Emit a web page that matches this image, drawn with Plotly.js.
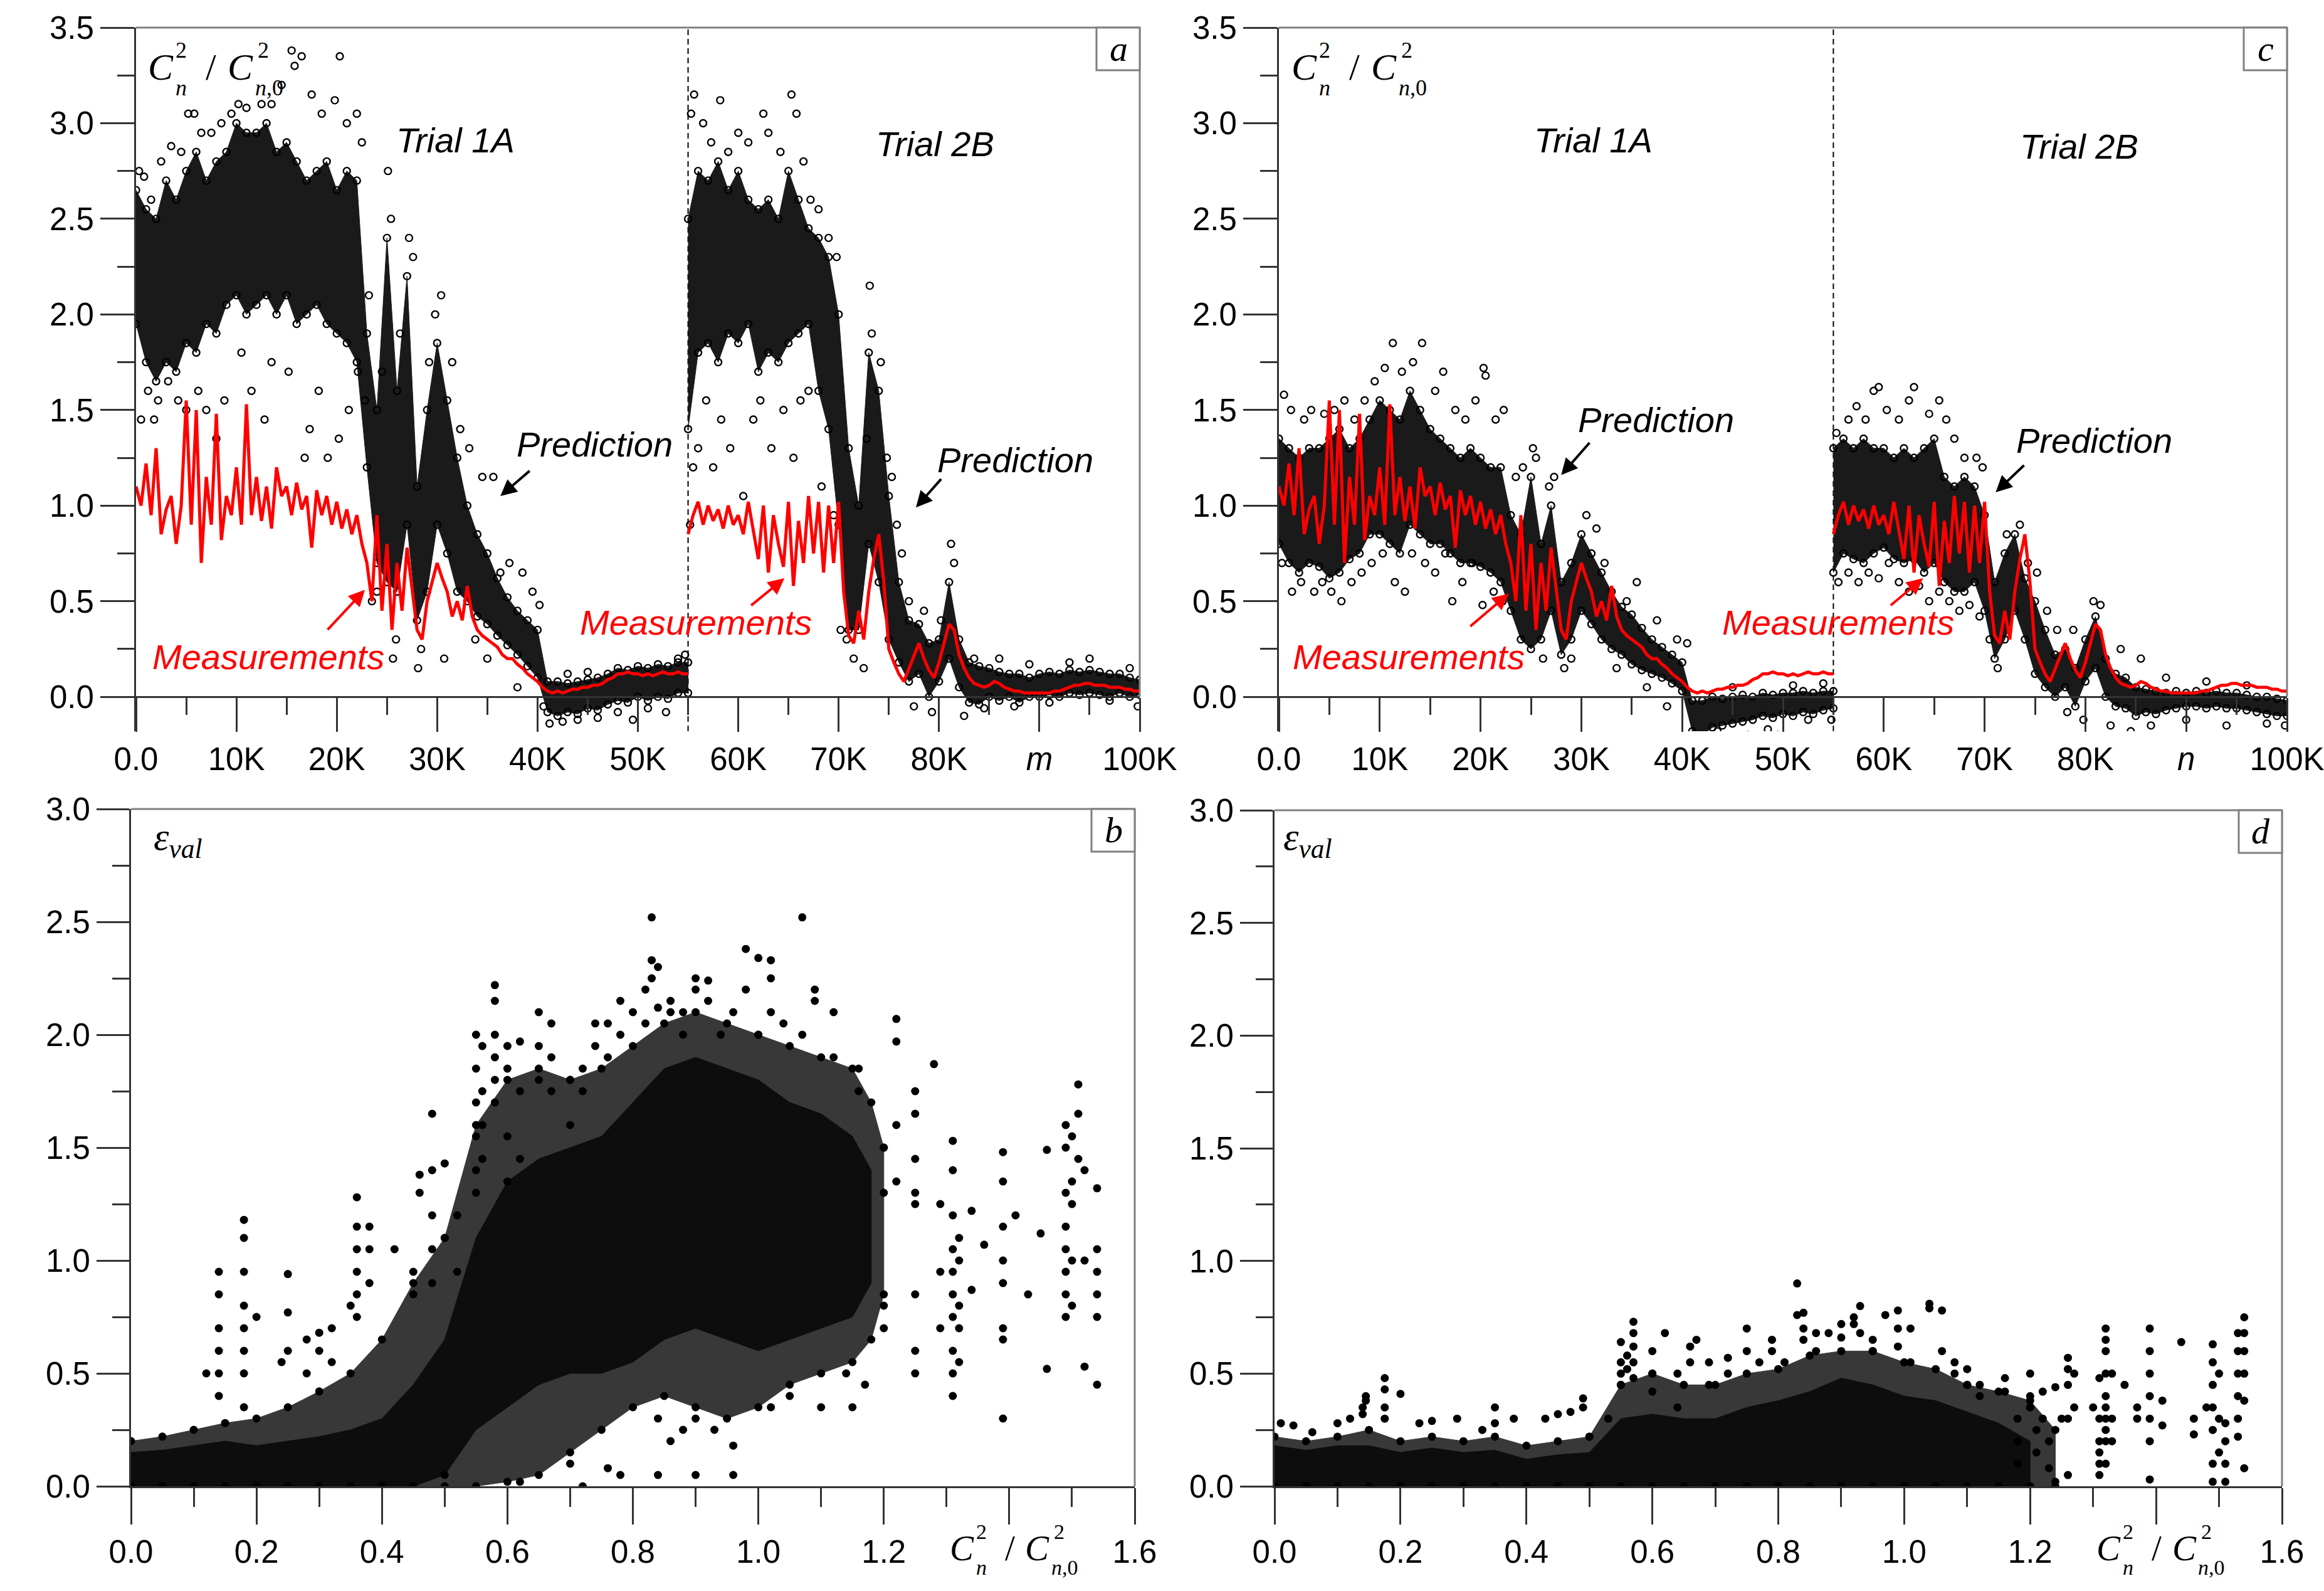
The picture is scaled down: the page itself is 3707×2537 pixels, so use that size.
<!DOCTYPE html>
<html>
<head>
<meta charset="utf-8">
<script src="https://cdn.plot.ly/plotly-3.0.1.min.js"></script>
<style>body{margin:0;background:#fff}#plot{width:3707px;height:2537px}</style>
</head>
<body>
<div id="plot"></div>
<script>
var W = 3707, H = 2537;

// measured Cn2/Cn0^2, one sample every 0.5K (same record in a and c)
var measTrial1 = [1.1,1.0,1.22,0.95,1.3,0.85,0.98,1.05,0.8,1.0,
  1.55,0.9,1.5,0.7,1.15,0.9,1.48,0.82,1.05,0.95,
  1.2,0.9,1.53,0.95,1.15,0.92,1.1,0.88,1.2,1.05,
  1.1,0.95,1.12,0.98,1.05,0.78,1.08,0.95,1.05,0.9,
  1.02,0.88,0.98,0.85,0.95,0.8,0.7,0.5,0.95,0.45,
  0.8,0.35,0.7,0.45,0.78,0.55,0.35,0.3,0.5,0.6,
  0.7,0.62,0.55,0.42,0.5,0.4,0.58,0.42,0.35,0.32,
  0.3,0.28,0.26,0.22,0.2,0.2,0.17,0.15,0.12,0.1,
  0.08,0.05,0.03,0.02,0.03,0.02,0.03,0.04,0.04,0.05,
  0.05,0.06,0.06,0.07,0.09,0.1,0.12,0.12,0.13,0.12,
  0.12,0.11,0.12,0.11,0.12,0.13,0.12,0.12,0.13,0.12,0.12];
var measTrial2 = [0.85,0.95,1.02,0.9,1.0,0.92,0.98,0.88,1.0,0.9,
  0.95,0.85,1.02,0.88,0.72,1.0,0.65,0.95,0.8,0.68,
  1.02,0.58,0.92,0.7,1.05,0.75,1.02,0.65,1.0,0.7,
  1.02,0.55,0.32,0.28,0.45,0.3,0.55,0.72,0.85,0.6,
  0.25,0.18,0.12,0.08,0.15,0.22,0.28,0.2,0.14,0.1,
  0.18,0.28,0.38,0.35,0.22,0.15,0.1,0.07,0.06,0.05,
  0.06,0.08,0.07,0.05,0.04,0.03,0.03,0.02,0.02,0.02,
  0.02,0.02,0.02,0.03,0.03,0.04,0.05,0.06,0.06,0.07,
  0.07,0.06,0.06,0.06,0.05,0.05,0.05,0.04,0.04,0.03,0.03];

// panel a prediction: dense core per 1K (lower / upper edge)
var aLo1 = [1.95,1.75,1.65,1.75,1.7,1.85,1.8,1.95,1.9,2.05, 2.1,2.0,2.05,2.1,2.0,2.1,1.95,2.0,2.05,1.95,
  1.9,1.85,1.75,1.2,0.7,0.6,0.55,0.9,0.4,0.55, 0.9,0.75,0.55,0.5,0.42,0.38,0.32,0.27,0.22,0.16,
  0.1,-0.08,-0.1,-0.08,-0.09,-0.06,-0.07,-0.04,-0.02,-0.03, 0.0,-0.02,0.0,-0.01,0.02,0.02];
var aHi1 = [2.65,2.55,2.5,2.7,2.6,2.75,2.85,2.7,2.8,2.85, 3.0,2.95,2.95,3.0,2.85,2.9,2.8,2.7,2.75,2.8,
  2.65,2.75,2.7,1.9,1.5,2.4,1.6,2.2,1.1,1.5, 1.85,1.55,1.25,1.0,0.85,0.75,0.62,0.52,0.45,0.4,
  0.35,0.08,0.08,0.07,0.08,0.09,0.1,0.12,0.15,0.14, 0.16,0.15,0.17,0.16,0.18,0.18];
var aLo2 = [1.4,1.8,1.85,1.75,1.9,1.85,1.95,1.7,1.8,1.75, 1.85,1.9,1.95,1.6,1.4,0.9,0.35,0.35,0.8,0.6,
  0.3,0.18,0.08,0.12,0.0,0.08,0.2,0.05,-0.03,-0.04, 0.0,-0.02,0.0,-0.03,0.0,0.0,0.01,0.0,0.02,0.01,
  0.02,0.01,0.0,0.02,0.0,0.01];
var aHi2 = [2.5,2.75,2.7,2.8,2.65,2.75,2.6,2.55,2.6,2.5, 2.75,2.6,2.45,2.4,2.3,2.0,1.3,1.0,1.8,1.6,
  1.05,0.6,0.4,0.38,0.28,0.3,0.6,0.3,0.18,0.16, 0.15,0.13,0.12,0.12,0.1,0.12,0.13,0.12,0.14,0.13,
  0.14,0.13,0.12,0.12,0.1,0.09];
var aOutliers = [[0.3,2.75],[0.8,2.72],[1.5,2.6],[2.5,2.8],[3.5,2.88],[4.5,2.85],[5.2,3.05],[5.8,3.05],[6.5,2.95],[7.5,2.95],
  [8.5,3.0],[9.5,3.05],[10.2,3.1],[11,3.08],[12.5,3.1],[13.5,3.1],[14.5,3.2],[15.5,3.38],[15.8,3.3],[16.5,3.35],
  [17.5,3.15],[18.5,3.05],[19.8,3.12],[20.3,3.35],[21,3.0],[22,3.05],[22.5,2.9],
  [0.5,1.45],[1.2,1.6],[1.8,1.45],[2.2,1.55],[3.2,1.65],[4.2,1.55],[5.0,1.5],[6.2,1.6],[7.0,1.5],[8.0,1.35],
  [8.8,1.55],[10.5,1.8],[11.5,1.6],[12.8,1.45],[13.5,1.75],[15.2,1.7],[16.8,1.25],[17.3,1.4],[18.2,1.6],[19.1,1.25],
  [20.2,1.35],[21.2,1.5],[22.1,1.7],[22.8,1.55],
  [23.2,2.1],[23.5,0.5],[24,0.55],[24.5,1.7],[25.1,2.75],[25.4,2.5],[25.6,0.2],[25.9,0.3],[26.3,1.9],[27.2,2.4],
  [27.6,2.3],[28.1,0.15],[28.4,0.25],[29.2,1.75],[29.8,2.0],[30.4,2.1],[30.7,0.2],[31.5,1.75],[32.3,1.4],[33.2,1.3],
  [33.8,0.3],[34.5,1.15],[35.0,0.2],[35.6,1.15],[36.3,0.65],[37.2,0.7],[38,0.05],[38.5,0.65],[39.5,0.55],[40.2,0.48],
  [40.6,-0.05],[41.2,-0.14],[42.5,-0.13],[44,-0.12],[46,-0.11],[48,-0.08],[49.5,-0.12],[51,-0.06],[52.8,-0.08],[54,0.2],
  [54.7,0.22],[45,0.13],[43,0.12],
  [55.3,3.05],[55.6,3.15],[56.5,3.0],[57.3,2.9],[58.2,3.12],[59,2.85],[60,2.95],[61,2.9],[62.5,3.05],[63,2.95],
  [64.2,2.85],[65.3,3.15],[65.8,3.05],[66.5,2.8],[67.2,2.6],[68,2.55],[69,2.4],[69.8,2.3],
  [55.2,0.9],[55.5,1.2],[56,1.3],[56.8,1.55],[57.5,1.2],[58.3,1.45],[59.2,1.3],[60.5,1.05],[61.5,1.45],[62.2,1.55],
  [63.3,1.3],[64.5,1.5],[65.5,1.25],[66.2,1.55],[67,1.6],[68.3,1.1],[69.5,0.95],
  [70.2,0.35],[70.8,0.3],[71.5,0.2],[72.5,0.15],[72.8,1.35],[73.1,2.15],[73.3,1.9],[74.2,1.75],[74.8,1.25],[75.3,1.15],
  [75.8,0.9],[76.3,0.75],[77,0.5],[77.5,-0.05],[78.5,0.45],[79.3,-0.08],[80.2,0.4],[81.2,0.8],[81.5,0.7],[82.5,-0.1],
  [83.5,0.2],[84.5,-0.06],[86,0.2],[87.5,-0.05],[89,0.17],[91,-0.03],[93,0.18],[95,0.2],[97,-0.02],[99,0.15],[99.8,-0.05]];

// panel c prediction
var cLo1 = [0.8,0.7,0.65,0.7,0.68,0.62,0.65,0.72,0.75,0.85, 0.85,0.8,0.75,0.9,0.85,0.8,0.8,0.75,0.7,0.7,
  0.68,0.65,0.6,0.45,0.3,0.25,0.3,0.45,0.22,0.3, 0.45,0.38,0.3,0.25,0.22,0.17,0.14,0.12,0.1,0.07,
  0.03,-0.18,-0.2,-0.16,-0.15,-0.14,-0.13,-0.12,-0.1,-0.11, -0.09,-0.1,-0.08,-0.09,-0.07,-0.06];
var cHi1 = [1.35,1.3,1.25,1.3,1.3,1.35,1.4,1.3,1.35,1.45, 1.55,1.5,1.45,1.6,1.5,1.4,1.35,1.3,1.25,1.3,
  1.25,1.2,1.2,0.95,0.85,1.15,0.8,1.0,0.6,0.7, 0.85,0.75,0.65,0.55,0.47,0.43,0.36,0.3,0.26,0.22,
  0.18,-0.02,-0.02,0.0,-0.01,0.0,0.01,0.0,0.02,0.01, 0.02,0.02,0.03,0.02,0.03,0.03];
var cLo2 = [0.65,0.75,0.72,0.7,0.75,0.78,0.72,0.7,0.72,0.65, 0.7,0.6,0.55,0.55,0.6,0.45,0.2,0.3,0.45,0.3,
  0.12,0.05,0.0,0.05,-0.05,0.08,0.15,0.0,-0.05,-0.06, -0.1,-0.08,-0.09,-0.07,-0.06,-0.05,-0.05,-0.06,-0.05,-0.06,
  -0.06,-0.07,-0.08,-0.09,-0.1,-0.1];
var cHi2 = [1.3,1.35,1.3,1.35,1.3,1.3,1.25,1.3,1.25,1.3, 1.35,1.15,1.1,1.15,1.1,0.95,0.6,0.75,0.85,0.62,
  0.5,0.35,0.22,0.25,0.15,0.3,0.42,0.2,0.12,0.1, 0.05,0.04,0.03,0.02,0.03,0.02,0.03,0.02,0.03,0.02,
  0.02,0.01,0.0,0.0,-0.01,-0.02];
var cOutliers = [[0.5,1.58],[1.2,1.5],[2.5,1.45],[3.2,1.5],[4.5,1.48],[5.5,1.5],[6.5,1.55],[7.5,1.45],[8.5,1.55],[9.5,1.65],
  [10.5,1.72],[11.3,1.85],[12.2,1.7],[13.3,1.75],[14.2,1.85],[15.5,1.6],[16.3,1.7],[17.5,1.5],[18.5,1.45],[19.5,1.55],
  [20.3,1.72],[20.5,1.68],[21.5,1.45],[22.3,1.5],
  [0.3,0.7],[1.3,0.55],[2.2,0.6],[3.5,0.55],[4.3,0.6],[5.2,0.55],[6.2,0.5],[7.2,0.6],[8.2,0.65],[9.2,0.7],
  [10.3,0.75],[11.5,0.6],[12.5,0.55],[13.2,0.75],[14.5,0.7],[15.5,0.65],[16.5,0.75],[17.2,0.5],[18.2,0.6],[19.2,0.7],
  [20.2,0.48],[21.3,0.55],[22.2,0.5],
  [23.5,1.15],[24.2,1.2],[25.2,1.3],[25.5,1.25],[26.2,0.2],[26.8,1.1],[27.3,1.15],[28.3,0.15],[29,0.2],[30.5,0.95],
  [31.5,0.88],[32.3,0.7],[33.5,0.15],[34.5,0.5],[35.5,0.6],[36.5,0.05],[37.5,0.4],[38.5,-0.05],[39.5,0.3],[40.5,0.28],
  [41.2,-0.25],[42,-0.24],[43.5,-0.18],[45,0.05],[46.5,-0.2],[48.5,-0.17],[49.5,-0.2],[51,0.06],[52.5,-0.12],[54,0.07],[54.8,-0.12],
  [55.3,1.38],[56.5,1.45],[57.3,1.52],[58.2,1.45],[59,1.6],[59.5,1.62],[60.3,1.5],[61.5,1.45],[62.5,1.55],[63,1.62],
  [64.5,1.48],[65.5,1.55],[66.2,1.45],[67,1.35],[68,1.25],[69.2,1.25],[69.8,1.2],
  [55.5,0.6],[56.5,0.65],[57.5,0.6],[58.5,0.65],[59.5,0.62],[60.5,0.7],[61.5,0.6],[62.5,0.55],[63.5,0.58],[64.5,0.5],
  [65.5,0.55],[66.5,0.5],[67.5,0.45],[68.5,0.48],[69.5,0.42],
  [70.5,0.3],[71.3,0.15],[72.2,0.85],[73.5,0.9],[74.3,0.7],[75.2,0.65],[76.2,0.45],[77.2,0.35],[78.2,-0.08],[78.8,0.35],
  [79.8,-0.12],[80.8,0.5],[81.5,0.48],[82.5,-0.15],[83.5,0.25],[84.5,-0.18],[85.5,0.2],[86.5,-0.15],[88,0.1],[90,-0.12],
  [92,0.08],[94,-0.15],[96,0.06],[98,-0.14],[99.8,-0.15]];

// panel b: eps_val vs Cn2 ratio
var bMidX  = [0,0.05,0.1,0.15,0.2,0.25,0.3,0.35,0.4,0.45,0.5,0.55,0.6,0.65,0.7,0.75,0.8,0.85,0.9,0.95,1.0,1.05,1.1,1.15,1.18,1.2];
var bMidLo = [0,0,0,0,0,0,0,0,0,0,0,0,0.02,0.05,0.15,0.25,0.35,0.4,0.35,0.3,0.35,0.45,0.5,0.55,0.65,0.85];
var bMidHi = [0.2,0.22,0.25,0.28,0.3,0.35,0.42,0.5,0.65,0.9,1.1,1.6,1.8,1.85,1.8,1.85,1.95,2.05,2.1,2.05,2.0,1.95,1.9,1.85,1.7,1.5];
var bCoreX  = [0,0.05,0.1,0.15,0.2,0.25,0.3,0.35,0.4,0.45,0.5,0.55,0.6,0.65,0.7,0.75,0.8,0.85,0.9,0.95,1.0,1.05,1.1,1.15,1.18];
var bCoreLo = [0,0,0,0,0,0,0,0,0,0,0.05,0.25,0.35,0.45,0.5,0.5,0.55,0.65,0.7,0.65,0.6,0.65,0.7,0.75,0.9];
var bCoreHi = [0.15,0.16,0.18,0.2,0.18,0.2,0.22,0.25,0.3,0.45,0.65,1.1,1.35,1.45,1.5,1.55,1.7,1.85,1.9,1.85,1.8,1.7,1.65,1.55,1.4];
var bStreaks = [[0.12,[0.5]],[0.14,[0.4,0.5,0.6,0.7,0.85,0.95]],[0.18,[0.35,0.5,0.6,0.7,0.8,0.95,1.1,1.18]],
  [0.2,[0.75]],[0.24,[0.55]],[0.25,[0.6,0.77,0.94]],[0.28,[0.5,0.65]],[0.3,[0.6,0.68]],[0.32,[0.55,0.7]],
  [0.35,[0.8]],[0.36,[0.75,0.85,0.95,1.05,1.15,1.28]],[0.38,[0.9,1.05,1.15]],[0.42,[1.05]],[0.45,[0.85,0.95]],
  [0.46,[1.3,1.38]],[0.48,[0.9,1.05,1.2,1.4,1.65]],[0.5,[0.05,1.1,1.43]],[0.52,[0.95,1.2]],
  [0.55,[1.3,1.4,1.55,1.7,1.85,2.0]],[0.56,[1.45,1.6,1.75,1.95]],[0.58,[1.7,1.8,1.9,2.0,2.15,2.22]],
  [0.6,[1.35,1.55,1.85,1.95]],[0.62,[0.02,1.45,1.75,1.97]],[0.65,[1.8,1.95,2.1]],[0.67,[1.75,1.9,2.05]],
  [0.7,[0.1,1.6,1.8]],[0.72,[0.0,1.75,1.85]],[0.74,[1.95,2.05]],[0.76,[0.08,1.9,2.05]],[0.78,[0.05,2.0,2.15]],
  [0.8,[2.1]],[0.82,[2.05,2.2]],[0.83,[2.25,2.33,2.52]],[0.84,[0.05,0.3,2.12,2.3]],[0.86,[0.2,2.1,2.15]],
  [0.88,[0.25,2.0,2.1]],[0.9,[0.05,0.3,2.2,2.25]],[0.92,[2.15,2.24]],[0.93,[0.25]],[0.94,[2.0]],
  [0.96,[0.05,0.18,2.1]],[0.98,[2.2,2.38]],[1.0,[2.0,2.34]],[1.02,[0.35,2.1,2.25,2.33]],[1.04,[2.05]],
  [1.05,[0.4]],[1.07,[2.0,2.52]],[1.09,[2.15,2.2]],[1.1,[0.35]],[1.12,[1.9,2.1]],[1.14,[0.5]],[1.15,[0.35]],
  [1.16,[1.75,1.85]],[1.17,[0.45]],[1.2,[0.7,0.8,1.3,1.5]],[1.22,[1.35,1.6,1.97,2.07]],
  [1.25,[0.5,0.6,0.85,1.25,1.3,1.45,1.65,1.75]],[1.28,[1.87]],[1.29,[0.7,0.95,1.25]],
  [1.31,[0.4,0.5,0.6,0.75,0.85,0.95,1.05,1.2,1.4,1.53]],[1.32,[0.55,0.7,0.8,1.0,1.1]],[1.34,[0.87,1.22]],
  [1.36,[1.07]],[1.39,[0.3,0.65,0.7,0.9,1.0,1.15,1.35,1.48]],[1.41,[1.2]],[1.43,[0.85]],[1.45,[1.12]],
  [1.46,[0.52,1.49]],[1.49,[0.75,0.85,0.95,1.05,1.15,1.3,1.5,1.6]],[1.5,[0.8,1.0,1.25,1.35,1.55]],
  [1.51,[1.45,1.65,1.78]],[1.52,[0.53,1.0,1.4]],[1.54,[0.45,0.75,0.85,0.95,1.05,1.32]]];

// panel d
var dMidX  = [0,0.05,0.1,0.15,0.2,0.25,0.3,0.35,0.4,0.45,0.5,0.55,0.6,0.65,0.7,0.75,0.8,0.85,0.9,0.95,1.0,1.05,1.1,1.15,1.2,1.24];
var dMidLo = [0,0,0,0,0,0,0,0,0,0,0,0,0,0,0,0,0,0,0,0,0,0,0,0,0,0];
var dMidHi = [0.22,0.2,0.22,0.25,0.2,0.22,0.2,0.22,0.18,0.2,0.22,0.45,0.5,0.45,0.45,0.5,0.52,0.58,0.6,0.6,0.55,0.52,0.45,0.42,0.38,0.25];
var dCoreX  = [0,0.05,0.1,0.15,0.2,0.25,0.3,0.35,0.4,0.45,0.5,0.55,0.6,0.65,0.7,0.75,0.8,0.85,0.9,0.95,1.0,1.05,1.1,1.15,1.2];
var dCoreLo = [0,0,0,0,0,0,0,0,0,0,0,0,0,0,0,0,0,0,0,0,0,0,0,0,0];
var dCoreHi = [0.18,0.16,0.18,0.18,0.15,0.17,0.15,0.16,0.12,0.14,0.15,0.3,0.32,0.3,0.3,0.35,0.38,0.42,0.48,0.45,0.4,0.38,0.33,0.28,0.2];
var dStreaks = [[0.01,[0.28]],[0.03,[0.27]],[0.06,[0.24]],[0.1,[0.28]],[0.12,[0.3]],[0.14,[0.32,0.35]],
  [0.145,[0.38,0.4]],[0.175,[0.3,0.35,0.43,0.48]],[0.2,[0.41]],[0.23,[0.28]],[0.25,[0.29]],[0.29,[0.3]],
  [0.33,[0.25]],[0.35,[0.28,0.35]],[0.38,[0.3]],[0.43,[0.3]],[0.45,[0.32]],[0.47,[0.33]],[0.49,[0.35,0.39]],
  [0.5,[0.22]],[0.53,[0.3]],[0.55,[0.45,0.5,0.55,0.64]],[0.56,[0.52,0.58]],[0.57,[0.48,0.55,0.62,0.68,0.73]],
  [0.6,[0.42,0.5,0.6]],[0.62,[0.68]],[0.64,[0.35,0.5]],[0.66,[0.55,0.62]],[0.67,[0.65]],[0.69,[0.45,0.55]],
  [0.72,[0.5,0.57]],[0.75,[0.6,0.7]],[0.77,[0.55]],[0.79,[0.6,0.65]],[0.81,[0.55]],[0.83,[0.76,0.9]],
  [0.84,[0.65,0.7,0.77]],[0.86,[0.6,0.68]],[0.88,[0.68]],[0.9,[0.66,0.72]],[0.92,[0.72,0.75]],[0.93,[0.68,0.8]],
  [0.95,[0.6,0.65]],[0.97,[0.76]],[0.99,[0.62,0.7,0.78]],[1.01,[0.55,0.7]],[1.04,[0.79,0.81]],[1.06,[0.6,0.78]],
  [1.08,[0.5,0.55]],[1.1,[0.45,0.52]],[1.12,[0.4,0.45]],[1.16,[0.42,0.48]],[1.18,[0.1,0.2,0.3]],
  [1.2,[0.35,0.4,0.5]],[1.21,[0.15,0.25]],[1.22,[0.3,0.42]],[1.23,[0.08,0.2]],[1.24,[0.02,0.44]],[1.25,[0.3]],
  [1.26,[0.05,0.3,0.45,0.52,0.57]],[1.27,[0.35,0.5]],[1.3,[0.35]],[1.31,[0.05,0.1,0.15,0.2,0.3,0.48]],
  [1.32,[0.1,0.2,0.25,0.3,0.35,0.4,0.5,0.6,0.65,0.7]],[1.33,[0.2,0.3,0.5]],[1.35,[0.45]],[1.37,[0.3,0.35]],
  [1.39,[0.03,0.2,0.3,0.4,0.5,0.6,0.7]],[1.41,[0.27,0.38]],[1.44,[0.64]],[1.46,[0.23,0.3]],[1.48,[0.35]],
  [1.49,[0.02,0.1,0.25,0.35,0.45,0.55,0.63]],[1.5,[0.15,0.3,0.5]],[1.51,[0.02,0.1,0.2,0.28]],
  [1.53,[0.22,0.3,0.4,0.5,0.6,0.68]],[1.54,[0.08,0.38,0.5,0.6,0.68,0.75]]];

// ---------- helpers ----------
function px(x) { return x / W; }
function py(y) { return 1 - y / H; }
function grid(start, step, n) {
  var a = [];
  for (var i = 0; i < n; i++) a.push(+(start + i * step).toFixed(3));
  return a;
}
function band(xs, lo, hi, ax, color) {
  return { x: xs.concat(xs.slice().reverse()), y: hi.concat(lo.slice().reverse()),
    xaxis: 'x' + ax, yaxis: 'y' + ax, mode: 'lines', fill: 'toself', fillcolor: color,
    line: { color: color, width: 1 }, hoverinfo: 'skip' };
}
function rings(xs, ys, ax) {
  return { x: xs, y: ys, xaxis: 'x' + ax, yaxis: 'y' + ax, mode: 'markers', hoverinfo: 'skip',
    marker: { symbol: 'circle-open', size: 11, color: '#000', line: { width: 2.4, color: '#000' } } };
}
function dots(xs, ys, ax) {
  return { x: xs, y: ys, xaxis: 'x' + ax, yaxis: 'y' + ax, mode: 'markers', hoverinfo: 'skip',
    marker: { symbol: 'circle', size: 13, color: '#000' } };
}
function red(xs, ys, ax) {
  return { x: xs, y: ys, xaxis: 'x' + ax, yaxis: 'y' + ax, mode: 'lines', hoverinfo: 'skip',
    line: { color: '#ff0000', width: 5 } };
}

var k1 = grid(0, 1, 56), k2 = grid(55, 1, 46);
var m1 = grid(0, 0.5, 111), m2 = grid(55, 0.5, 91);

var traces = [];
function timePanel(ax, lo1, hi1, lo2, hi2, outl) {
  traces.push(band(k1, lo1, hi1, ax, '#1a1a1a'));
  traces.push(band(k2, lo2, hi2, ax, '#1a1a1a'));
  traces.push(rings(k1.concat(k1, k2, k2), hi1.concat(lo1, hi2, lo2), ax));
  traces.push(rings(outl.map(function (p) { return p[0]; }), outl.map(function (p) { return p[1]; }), ax));
  traces.push(red(m1, measTrial1, ax));
  traces.push(red(m2, measTrial2, ax));
}
timePanel('', aLo1, aHi1, aLo2, aHi2, aOutliers);
timePanel('2', cLo1, cHi1, cLo2, cHi2, cOutliers);

function errPanel(ax, mx, mlo, mhi, cx, clo, chi, streaks) {
  traces.push(band(mx, mlo, mhi, ax, '#383838'));
  traces.push(band(cx, clo, chi, ax, '#0d0d0d'));
  traces.push(dots(mx.concat(mx), mhi.concat(mlo), ax));
  var sx = [], sy = [];
  streaks.forEach(function (s) { s[1].forEach(function (v) { sx.push(s[0]); sy.push(v); }); });
  traces.push(dots(sx, sy, ax));
}
errPanel('3', bMidX, bMidLo, bMidHi, bCoreX, bCoreLo, bCoreHi, bStreaks);
errPanel('4', dMidX, dMidLo, dMidHi, dCoreX, dCoreLo, dCoreHi, dStreaks);

// ---------- axes ----------
var axCol = '#333';
var frameCol = '#808080';
var tickFont = { family: 'Liberation Sans, Arial, sans-serif', size: 51, color: '#000' };
var serif = 'Liberation Serif, Times New Roman, serif';
var sans = 'Liberation Sans, Arial, sans-serif';

var P = {
  a: { l: 217, r: 1818, t: 44, b: 1166, zero: 1111 },
  c: { l: 2040, r: 3648, t: 44, b: 1166, zero: 1111 },
  b: { l: 209, r: 1810, t: 1290, b: 2370 },
  d: { l: 2033, r: 3640, t: 1292, b: 2370 }
};

function timeX(p, letter) {
  return { domain: [px(p.l), px(p.r)], range: [0, 100], anchor: 'free', position: py(p.zero),
    showline: true, linecolor: axCol, linewidth: 3, ticks: 'outside', ticklen: 54, tickwidth: 3, tickcolor: axCol,
    tickmode: 'array', tickvals: [0, 10, 20, 30, 40, 50, 60, 70, 80, 90, 100],
    ticktext: ['0.0', '10K', '20K', '30K', '40K', '50K', '60K', '70K', '80K', '<i>' + letter + '</i>', '100K'],
    minor: { tickmode: 'linear', tick0: 0, dtick: 5, ticks: 'outside', ticklen: 27, tickwidth: 3, tickcolor: axCol },
    ticklabeloverflow: 'allow',
    showgrid: false, zeroline: false, tickfont: tickFont, fixedrange: true };
}
function timeY(p, xa) {
  return { domain: [py(p.b), py(p.t)], range: [-0.18, 3.5], anchor: xa,
    showline: true, linecolor: axCol, linewidth: 3, ticks: 'outside', ticklen: 54, tickwidth: 3, tickcolor: axCol,
    tickmode: 'array', tickvals: [0, 0.5, 1, 1.5, 2, 2.5, 3, 3.5],
    ticktext: ['0.0', '0.5', '1.0', '1.5', '2.0', '2.5', '3.0', '3.5'],
    minor: { tickmode: 'linear', tick0: 0, dtick: 0.25, ticks: 'outside', ticklen: 27, tickwidth: 3, tickcolor: axCol },
    showgrid: false, zeroline: false, tickfont: tickFont, fixedrange: true };
}
function errX(p, ya) {
  return { domain: [px(p.l), px(p.r)], range: [0, 1.6], anchor: ya,
    showline: true, linecolor: axCol, linewidth: 3, ticks: 'outside', ticklen: 58, tickwidth: 3, tickcolor: axCol,
    tickmode: 'array', tickvals: [0, 0.2, 0.4, 0.6, 0.8, 1.0, 1.2, 1.4, 1.6],
    ticktext: ['0.0', '0.2', '0.4', '0.6', '0.8', '1.0', '1.2', '', '1.6'],
    minor: { tickmode: 'linear', tick0: 0, dtick: 0.1, ticks: 'outside', ticklen: 30, tickwidth: 3, tickcolor: axCol },
    ticklabeloverflow: 'allow',
    showgrid: false, zeroline: false, tickfont: tickFont, fixedrange: true };
}
function errY(p, xa) {
  return { domain: [py(p.b), py(p.t)], range: [0, 3], anchor: xa,
    showline: true, linecolor: axCol, linewidth: 3, ticks: 'outside', ticklen: 52, tickwidth: 3, tickcolor: axCol,
    tickmode: 'array', tickvals: [0, 0.5, 1, 1.5, 2, 2.5, 3],
    ticktext: ['0.0', '0.5', '1.0', '1.5', '2.0', '2.5', '3.0'],
    minor: { tickmode: 'linear', tick0: 0, dtick: 0.25, ticks: 'outside', ticklen: 27, tickwidth: 3, tickcolor: axCol },
    showgrid: false, zeroline: false, tickfont: tickFont, fixedrange: true };
}

// ---------- shapes & annotations ----------
var shapes = [], ann = [];
function frame(ax, yTop, yBottom) {
  shapes.push({ type: 'line', xref: 'x' + ax + ' domain', yref: 'y' + ax + ' domain', x0: 0, x1: 1, y0: 1, y1: 1,
    line: { color: frameCol, width: 3 } });
  shapes.push({ type: 'line', xref: 'x' + ax + ' domain', yref: 'y' + ax, x0: 1, x1: 1, y0: yBottom, y1: yTop,
    line: { color: frameCol, width: 3 } });
}
function letterBox(p, letter) {
  shapes.push({ type: 'rect', xref: 'paper', yref: 'paper', x0: px(p.r - 69), x1: px(p.r), y0: py(p.t + 68), y1: py(p.t),
    line: { color: frameCol, width: 3 }, fillcolor: '#fff', layer: 'above' });
  ann.push({ xref: 'paper', yref: 'paper', x: px(p.r - 34), y: py(p.t + 33), text: '<i>' + letter + '</i>',
    showarrow: false, xanchor: 'center', yanchor: 'middle', font: { family: serif, size: 58, color: '#000' } });
}
// C_n^2 / C_n,0^2 built from pieces so the scripts stack
function cnLabel(x0, base, F) {
  var k = F / 52, s = Math.round(F * 0.6);
  var parts = [['<i>C</i>', 0, -17, F], ['2', 38, -41, s], ['<i>n</i>', 38, 11, s],
    ['/', 80, -17, F], ['<i>C</i>', 110, -17, F], ['2', 152, -41, s], ['<i>n</i>,0', 148, 11, s]];
  parts.forEach(function (q) {
    ann.push({ xref: 'paper', yref: 'paper', x: px(x0 + q[1] * k), y: py(base + q[2] * k), text: q[0],
      showarrow: false, xanchor: 'left', yanchor: 'middle', borderpad: 0,
      font: { family: serif, size: q[3], color: '#000' } });
  });
}
function epsLabel(x0, yc) {
  ann.push({ xref: 'paper', yref: 'paper', x: px(x0), y: py(yc), text: '<i>ε</i><sub><i>val</i></sub>',
    showarrow: false, xanchor: 'left', yanchor: 'middle', font: { family: serif, size: 62, color: '#000' } });
}
function txt(ax, x, y, t, color) {
  ann.push({ xref: 'x' + ax, yref: 'y' + ax, x: x, y: y, text: '<i>' + t + '</i>', showarrow: false,
    xanchor: 'center', yanchor: 'middle', font: { family: sans, size: 56, color: color } });
}
function arrow(ax, x0, y0, x1, y1, color) {
  ann.push({ xref: 'x' + ax, yref: 'y' + ax, axref: 'x' + ax, ayref: 'y' + ax, x: x1, y: y1, ax: x0, ay: y0,
    text: ' ', showarrow: true, arrowhead: 2, arrowsize: 1.3, arrowwidth: 4, arrowcolor: color, standoff: 0 });
}

frame('', 3.5, 0); frame('2', 3.5, 0); frame('3', 3, 0); frame('4', 3, 0);
shapes.push({ type: 'line', xref: 'x', yref: 'y domain', x0: 55, x1: 55, y0: 0, y1: 1,
  line: { color: '#000', width: 2, dash: '9px,6px' }, layer: 'below' });
shapes.push({ type: 'line', xref: 'x2', yref: 'y2 domain', x0: 55, x1: 55, y0: 0, y1: 1,
  line: { color: '#000', width: 2, dash: '9px,6px' }, layer: 'below' });
letterBox(P.a, 'a'); letterBox(P.c, 'c'); letterBox(P.b, 'b'); letterBox(P.d, 'd');

cnLabel(235, 127, 60);
cnLabel(2059, 127, 60);
cnLabel(P.b.l + (P.b.r - P.b.l) * 1.4 / 1.6 - 96, 2487, 57);
cnLabel(P.d.l + (P.d.r - P.d.l) * 1.4 / 1.6 - 96, 2487, 57);
epsLabel(243, 1338);
epsLabel(2045, 1338);

// panel a texts
txt('', 31.8, 2.91, 'Trial 1A', '#000');
txt('', 79.6, 2.89, 'Trial 2B', '#000');
txt('', 45.7, 1.32, 'Prediction', '#000');
arrow('', 39.4, 1.19, 36.3, 1.05, '#000');
txt('', 87.6, 1.24, 'Prediction', '#000');
arrow('', 80.4, 1.15, 77.7, 0.99, '#000');
txt('', 13.2, 0.21, 'Measurements', '#ff0000');
arrow('', 18.9, 0.34, 22.8, 0.56, '#ff0000');
txt('', 55.8, 0.39, 'Measurements', '#ff0000');
arrow('', 61.1, 0.47, 64.6, 0.62, '#ff0000');
// panel c texts
txt('2', 31.2, 2.91, 'Trial 1A', '#000');
txt('2', 79.4, 2.88, 'Trial 2B', '#000');
txt('2', 37.4, 1.45, 'Prediction', '#000');
arrow('2', 31.0, 1.34, 28.0, 1.16, '#000');
txt('2', 80.9, 1.34, 'Prediction', '#000');
arrow('2', 74.1, 1.22, 71.1, 1.07, '#000');
txt('2', 12.9, 0.21, 'Measurements', '#ff0000');
arrow('2', 18.8, 0.36, 22.8, 0.54, '#ff0000');
txt('2', 55.5, 0.39, 'Measurements', '#ff0000');
arrow('2', 60.5, 0.47, 63.9, 0.62, '#ff0000');

var layout = {
  width: W, height: H, margin: { l: 0, r: 0, t: 0, b: 0 },
  paper_bgcolor: '#fff', plot_bgcolor: '#fff', showlegend: false, hovermode: false,
  xaxis: timeX(P.a, 'm'), yaxis: timeY(P.a, 'x'),
  xaxis2: timeX(P.c, 'n'), yaxis2: timeY(P.c, 'x2'),
  xaxis3: errX(P.b, 'y3'), yaxis3: errY(P.b, 'x3'),
  xaxis4: errX(P.d, 'y4'), yaxis4: errY(P.d, 'x4'),
  shapes: shapes, annotations: ann
};

Plotly.newPlot('plot', traces, layout, { staticPlot: true, displayModeBar: false });
</script>
</body>
</html>
